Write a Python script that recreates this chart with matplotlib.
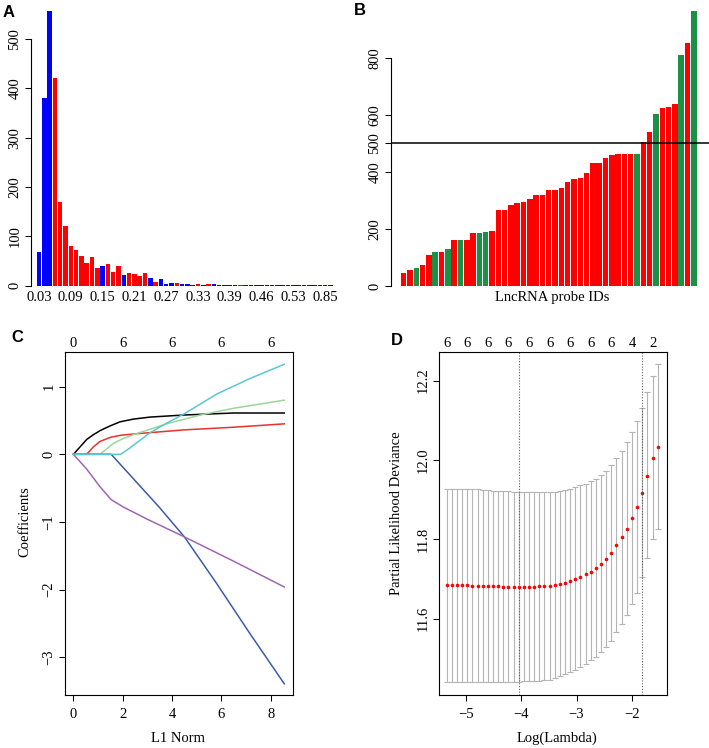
import numpy as np
import matplotlib
matplotlib.use("Agg")
import matplotlib.pyplot as plt

plt.rcParams['font.family'] = ['Liberation Serif', 'DejaVu Serif']
plt.rcParams['font.size'] = 10.5
plt.rcParams['axes.linewidth'] = 0.8

W, H = 709, 748

# ---- A: distribution (bar per bin)
a_counts = [69, 380, 557, 421, 170, 122, 80, 72, 61, 45, 59, 36, 39, 44, 28, 39,
            21, 26, 24, 20, 25, 15, 7, 13, 4, 6, 5, 3, 3, 2, 3, 2, 3, 3, 1, 1,
            1, 1, 1, 2, 1, 1, 1, 1, 2, 1, 1, 1, 1, 1, 1, 1, 1, 1, 1, 1]
a_colors = list('bbbrrrrrrrrrbrrrbrrrrbrbbbrbbbrbrbbbbbrbbbbbbbbbbbbbbbbb')[:56]
a_tick_labels = ['0.03', '0.09', '0.15', '0.21', '0.27', '0.33', '0.39',
                 '0.46', '0.53', '0.85']

# ---- B: sorted probe values
b_values = [45, 55, 62, 72, 108, 120, 120, 130, 160, 162, 162, 185, 185, 190,
            193, 265, 265, 283, 290, 295, 305, 320, 320, 335, 338, 345, 363,
            375, 378, 395, 430, 430, 450, 458, 462, 462, 462, 462, 505, 538,
            603, 625, 628, 637, 808, 852, 962]
b_groups = list('rrgrrgrgrgrrggr' + 'r' * 22 + 'grrgrrrgrg')
b_cutoff = 500

# ---- C: coefficient paths (L1 norm, coefficient)
c_black = ([0, 0.27, 0.54, 0.81, 1.08, 1.49, 1.89, 2.43, 3.11, 4.46, 6.49, 8.55],
           [0, 0.11, 0.22, 0.29, 0.35, 0.42, 0.48, 0.52, 0.55, 0.58, 0.61, 0.61])
c_red = ([0, 0.54, 0.81, 1.08, 1.49, 1.89, 2.43, 4.46, 6.49, 8.55],
         [0, 0, 0.11, 0.19, 0.25, 0.28, 0.30, 0.36, 0.40, 0.45])
c_green = ([0, 1.08, 1.35, 1.62, 2.0, 2.43, 3.78, 5.14, 6.49, 8.55],
           [0, 0, 0.08, 0.16, 0.23, 0.29, 0.45, 0.58, 0.68, 0.80])
c_blue = ([0, 1.53, 2.43, 3.5, 4.5, 5.81, 7.16, 8.55],
          [0, 0, -0.36, -0.79, -1.22, -1.91, -2.65, -3.39])
c_purple = ([0, 0.27, 0.54, 1.08, 1.53, 2.03, 3.0, 4.5, 6.5, 8.55],
            [0, -0.11, -0.22, -0.48, -0.67, -0.78, -0.96, -1.22, -1.58, -1.96])
c_cyan = ([0, 1.92, 2.2, 2.6, 3.11, 3.78, 4.5, 5.81, 7.16, 8.55],
          [0, 0, 0.07, 0.18, 0.32, 0.46, 0.60, 0.89, 1.12, 1.33])
c_top_at = [0, 2, 4, 6, 8]
c_top_df = ['0', '6', '6', '6', '6']

# ---- D: cross-validation curve
d_loglam = [-5.343, -5.250, -5.157, -5.065, -4.972, -4.879, -4.786, -4.693,
            -4.600, -4.508, -4.415, -4.322, -4.229, -4.136, -4.043, -3.951,
            -3.858, -3.765, -3.672, -3.579, -3.486, -3.394, -3.301, -3.208,
            -3.115, -3.022, -2.929, -2.837, -2.744, -2.651, -2.558, -2.465,
            -2.372, -2.280, -2.187, -2.094, -2.001, -1.908, -1.815, -1.723,
            -1.630, -1.537]
d_mean = [11.684, 11.684, 11.684, 11.684, 11.684, 11.683, 11.683, 11.683,
          11.682, 11.682, 11.682, 11.681, 11.681, 11.681, 11.681, 11.681,
          11.681, 11.681, 11.682, 11.682, 11.683, 11.685, 11.687, 11.690,
          11.694, 11.700, 11.706, 11.712, 11.719, 11.728, 11.738, 11.750,
          11.765, 11.785, 11.805, 11.827, 11.853, 11.881, 11.917, 11.961,
          12.006, 12.032]
d_upper = [11.928, 11.928, 11.928, 11.928, 11.927, 11.927, 11.926, 11.925,
           11.924, 11.923, 11.922, 11.921, 11.921, 11.920, 11.920, 11.919,
           11.919, 11.919, 11.919, 11.919, 11.920, 11.920, 11.921, 11.924,
           11.928, 11.931, 11.936, 11.940, 11.946, 11.952, 11.962, 11.973,
           11.988, 12.006, 12.024, 12.045, 12.071, 12.098, 12.131, 12.171,
           12.213, 12.241]
d_lower = [11.440, 11.440, 11.440, 11.440, 11.441, 11.441, 11.441, 11.441,
           11.441, 11.441, 11.442, 11.442, 11.442, 11.442, 11.442, 11.443,
           11.443, 11.443, 11.444, 11.445, 11.446, 11.450, 11.457, 11.461,
           11.465, 11.472, 11.479, 11.487, 11.495, 11.504, 11.516, 11.530,
           11.545, 11.566, 11.587, 11.610, 11.637, 11.666, 11.706, 11.754,
           11.801, 11.827]
d_nonzero = ['6', '6', '6', '6', '6', '6', '6', '6', '6', '4', '2']
d_lambda_min = -4.043
d_lambda_1se = -1.815

fig = plt.figure(figsize=(W / 100, H / 100), dpi=100)


def px_axes(l, t, r, b):
    return fig.add_axes([l / W, 1 - b / H, (r - l) / W, (b - t) / H])


def rotate_y(ax):
    for t in ax.get_yticklabels():
        t.set_rotation(90)
        t.set_va('center')


tick_kw = dict(direction='out', length=4.3, width=0.75, labelsize=10.5)

# ---------------- A
axA = px_axes(31, 5, 340, 285.7)
xa = np.arange(len(a_counts))
axA.bar(xa, a_counts, width=0.86, linewidth=0,
        color=[{'b': '#0000ff', 'r': '#ff0000'}[c] for c in a_colors])
axA.set_xlim(-1.51, 56.8)
axA.set_ylim(0, 568.9)
for s in ['top', 'right', 'bottom']:
    axA.spines[s].set_visible(False)
axA.spines['left'].set_bounds(0, 500)
axA.set_yticks(range(0, 501, 100))
axA.set_xticks(xa[::6])
axA.set_xticklabels(a_tick_labels)
axA.tick_params(axis='x', length=0, pad=4, labelsize=10.5)
axA.tick_params(axis='y', pad=2.5, **tick_kw)
rotate_y(axA)

# ---------------- B
axB = px_axes(390.7, 5, 709, 286)
xb = np.arange(len(b_values))
axB.bar(xb, b_values, width=0.87, linewidth=0,
        color=[{'r': '#ff0000', 'g': '#1a9146'}[c] for c in b_groups])
axB.axhline(b_cutoff, color='black', lw=1.1)
axB.set_xlim(-2.06, 48.41)
axB.set_ylim(0, 984.6)
for s in ['top', 'right', 'bottom']:
    axB.spines[s].set_visible(False)
axB.spines['left'].set_bounds(0, 800)
axB.set_yticks([0, 200, 400, 500, 600, 800])
axB.set_xticks([])
axB.tick_params(axis='y', pad=2.5, **tick_kw)
rotate_y(axB)
fig.text(552 / W, 1 - 298 / H, 'LncRNA probe IDs', ha='center', va='center',
         fontsize=10.5)

# ---------------- C
axC = px_axes(65, 352.3, 292.7, 695)
for (xs, ys), col in [(c_black, '#000000'), (c_red, '#e8322b'),
                      (c_green, '#9cd69a'), (c_blue, '#3b5ba9'),
                      (c_purple, '#a065b3'), (c_cyan, '#5cc6d6')]:
    axC.plot(xs, ys, color=col, lw=1.1)
axC.set_xlim(-0.342, 8.892)
axC.set_ylim(-3.556, 1.507)
axC.set_xticks([0, 2, 4, 6, 8])
axC.set_yticks([-3, -2, -1, 0, 1])
axC.tick_params(axis='x', pad=5, **tick_kw)
axC.tick_params(axis='y', pad=2.5, **tick_kw)
rotate_y(axC)
topC = axC.secondary_xaxis('top')
topC.set_xticks(c_top_at)
topC.set_xticklabels(c_top_df)
topC.tick_params(length=0, pad=2, labelsize=10.5)
topC.spines['top'].set_visible(False)
fig.text(178 / W, 1 - 738 / H, 'L1 Norm', ha='center', va='center', fontsize=10.5)
fig.text(25 / W, 1 - 522 / H, 'Coefficients', ha='center', va='center',
         rotation=90, fontsize=10.5)

# ---------------- D
axD = px_axes(439.3, 352.3, 666.7, 695)
mean = np.array(d_mean)
axD.errorbar(d_loglam, mean,
             yerr=[mean - np.array(d_lower), np.array(d_upper) - mean],
             fmt='none', ecolor='#b4b4b4', elinewidth=0.8, capsize=2.2,
             capthick=0.8)
axD.plot(d_loglam, d_mean, 'o', color='#ff0000', ms=2.6, mec='none')
axD.axvline(d_lambda_min, color='#606060', ls=(0, (1, 1.5)), lw=0.8)
axD.axvline(d_lambda_1se, color='#606060', ls=(0, (1, 1.5)), lw=0.8)
axD.set_xlim(-5.476, -1.374)
axD.set_ylim(11.408, 12.2715)
axD.set_xticks([-5, -4, -3, -2])
axD.set_yticks([11.6, 11.8, 12.0, 12.2])
axD.set_yticklabels(['11.6', '11.8', '12.0', '12.2'])
axD.tick_params(axis='x', pad=5, **tick_kw)
axD.tick_params(axis='y', pad=2.5, **tick_kw)
rotate_y(axD)
topD = axD.secondary_xaxis('top')
topD.set_xticks(d_loglam[::4])
topD.set_xticklabels(d_nonzero)
topD.tick_params(length=0, pad=2, labelsize=10.5)
topD.spines['top'].set_visible(False)
fig.text(557 / W, 1 - 738 / H, 'Log(Lambda)', ha='center', va='center',
         fontsize=10.5)
fig.text(397 / W, 1 - 513 / H, 'Partial Likelihood Deviance', ha='center',
         va='center', rotation=90, fontsize=10.5)

# panel letters
for lab, (px, py) in {'A': (9, 12.5), 'B': (359.5, 10.5), 'C': (17.5, 337.5),
                      'D': (396.7, 341)}.items():
    fig.text(px / W, 1 - py / H, lab, ha='center', va='center', fontsize=12,
             fontweight='bold', family=['Liberation Sans', 'DejaVu Sans'])

plt.savefig('out.png', dpi=100)
